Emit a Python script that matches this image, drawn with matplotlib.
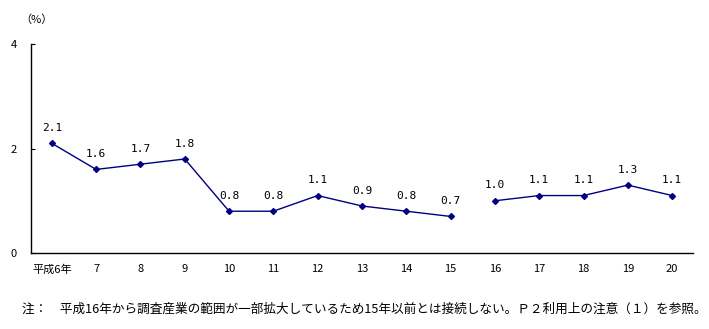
import numpy as np
import matplotlib
matplotlib.use("Agg")
import matplotlib.pyplot as plt

plt.rcParams['font.family'] = ['Noto Sans CJK JP', 'DejaVu Sans']

# --- data ---
years = ['平成6年', '7', '8', '9', '10', '11', '12', '13', '14', '15',
         '16', '17', '18', '19', '20']
rate_old = [2.1, 1.6, 1.7, 1.8, 0.8, 0.8, 1.1, 0.9, 0.8, 0.7]   # 平成6〜15年
rate_new = [1.0, 1.1, 1.1, 1.3, 1.1]                             # 平成16〜20年
note = '注：　平成16年から調査産業の範囲が一部拡大しているため15年以前とは接続しない。Ｐ２利用上の注意（１）を参照。'

fig = plt.figure(figsize=(7.09, 3.29), dpi=100)
ax = fig.add_axes([0.0437, 0.231, 0.9337, 0.635])

x_old = np.arange(len(rate_old))
x_new = np.arange(len(rate_old), len(rate_old) + len(rate_new))
for xs, ys in [(x_old, rate_old), (x_new, rate_new)]:
    ax.plot(xs, ys, color='#000080', linewidth=1, marker='D', markersize=3)
    for xi, yi in zip(xs, ys):
        ax.text(xi, yi + 0.2, f'{yi:.1f}', ha='center', va='bottom', fontsize=8,
                family='DejaVu Sans Mono')

ax.set_xlim(-0.47, 14.47)
ax.set_ylim(0, 4)
ax.set_yticks([0, 2, 4])
ax.set_xticks(range(len(years)))
ax.set_xticklabels(years)
ax.tick_params(axis='y', direction='in', length=3, labelsize=8, pad=10)
ax.tick_params(axis='x', length=0, labelsize=8, pad=8)
for s in ['top', 'right']:
    ax.spines[s].set_visible(False)
for s in ['left', 'bottom']:
    ax.spines[s].set_linewidth(1)

fig.text(0.028, 0.94, '（%）', fontsize=8, va='center')
fig.text(0.031, 0.061, note, fontsize=9.1, va='center')

fig.savefig('out.png', dpi=100)
